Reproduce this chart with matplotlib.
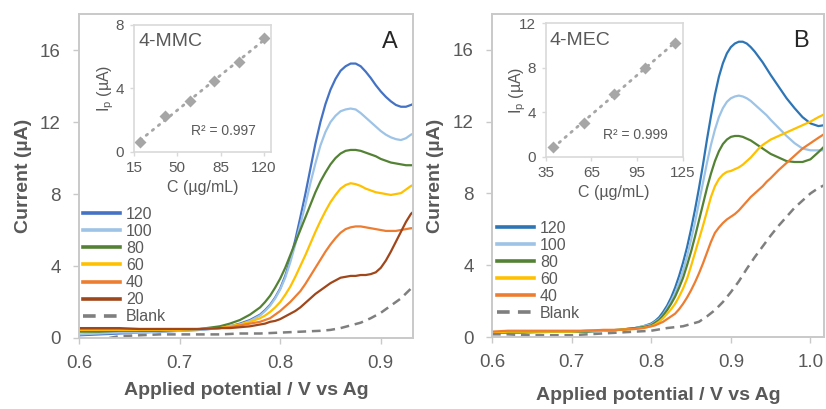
import numpy as np
import matplotlib.pyplot as plt

plt.rcParams["font.family"] = ["Liberation Sans", "DejaVu Sans"]

# ---- panel A : 4-MMC voltammograms -------------------------------------------
va = [0.60, 0.62, 0.64, 0.66, 0.68, 0.70, 0.72, 0.74, 0.75, 0.76, 0.77, 0.78,
      0.785, 0.79, 0.795, 0.80, 0.805, 0.81, 0.815, 0.82, 0.825, 0.83, 0.835,
      0.84, 0.845, 0.85, 0.855, 0.86, 0.865, 0.87, 0.875, 0.88, 0.885, 0.89,
      0.895, 0.90, 0.905, 0.91, 0.915, 0.92, 0.925, 0.93, 0.932]
ia_120 = [0.15, 0.2, 0.25, 0.3, 0.35, 0.4, 0.45, 0.55, 0.65, 0.8, 1.0, 1.3,
          1.55, 1.85, 2.25, 2.75, 3.45, 4.35, 5.45, 6.7, 8.0, 9.4, 10.8,
          12.0, 13.0, 13.8, 14.4, 14.85, 15.1, 15.25, 15.25, 15.1, 14.8, 14.45,
          14.05, 13.7, 13.4, 13.15, 12.95, 12.85, 12.85, 12.95, 13.0]
ia_100 = [0.2, 0.25, 0.3, 0.3, 0.35, 0.4, 0.45, 0.55, 0.65, 0.75, 0.95, 1.25,
          1.5, 1.8, 2.2, 2.7, 3.35, 4.2, 5.2, 6.3, 7.4, 8.6, 9.7,
          10.7, 11.45, 12.0, 12.35, 12.6, 12.7, 12.75, 12.7, 12.5, 12.25, 12.0,
          11.75, 11.5, 11.3, 11.15, 11.05, 11.0, 11.1, 11.3, 11.35]
ia_80 = [0.35, 0.35, 0.4, 0.4, 0.4, 0.45, 0.5, 0.65, 0.8, 1.0, 1.3, 1.7,
         2.0, 2.35, 2.8, 3.3, 3.9, 4.6, 5.3, 6.0, 6.7, 7.4, 8.1,
         8.7, 9.2, 9.65, 10.0, 10.25, 10.4, 10.45, 10.45, 10.4, 10.3, 10.2,
         10.1, 9.95, 9.85, 9.75, 9.7, 9.65, 9.6, 9.6, 9.6]
ia_60 = [0.45, 0.45, 0.45, 0.45, 0.45, 0.45, 0.5, 0.55, 0.65, 0.75, 0.9, 1.1,
         1.25, 1.45, 1.7, 2.0, 2.4, 2.85, 3.4, 4.0, 4.6, 5.25, 5.9,
         6.5, 7.05, 7.55, 7.95, 8.3, 8.5, 8.6, 8.55, 8.45, 8.3, 8.2,
         8.1, 8.05, 8.0, 7.95, 8.0, 8.05, 8.25, 8.45, 8.5]
ia_40 = [0.5, 0.5, 0.5, 0.5, 0.5, 0.5, 0.5, 0.55, 0.6, 0.7, 0.8, 0.9,
         1.0, 1.1, 1.3, 1.5, 1.75, 2.0, 2.3, 2.6, 3.0, 3.45, 3.9,
         4.35, 4.8, 5.2, 5.55, 5.85, 6.05, 6.15, 6.2, 6.2, 6.15, 6.1,
         6.05, 6.0, 5.95, 5.95, 5.95, 6.0, 6.05, 6.1, 6.1]
ia_20 = [0.55, 0.55, 0.55, 0.5, 0.5, 0.5, 0.5, 0.55, 0.55, 0.6, 0.65, 0.75,
         0.8, 0.9, 0.95, 1.05, 1.2, 1.35, 1.5, 1.7, 1.95, 2.2, 2.45,
         2.65, 2.85, 3.05, 3.2, 3.35, 3.4, 3.45, 3.45, 3.5, 3.5, 3.55,
         3.65, 3.9, 4.3, 4.8, 5.35, 5.9, 6.45, 6.9, 7.0]
va_blank = [0.63, 0.64, 0.66, 0.68, 0.70, 0.72, 0.74, 0.76, 0.78, 0.80, 0.82,
            0.84, 0.85, 0.86, 0.87, 0.88, 0.89, 0.90, 0.91, 0.92, 0.93, 0.932]
ia_blank = [0.0, 0.1, 0.15, 0.2, 0.2, 0.2, 0.2, 0.25, 0.25, 0.3, 0.35,
            0.4, 0.45, 0.55, 0.7, 0.85, 1.1, 1.4, 1.8, 2.2, 2.75, 2.85]

# calibration inset, 4-MMC
conc_a = [20, 40, 60, 80, 100, 120]
ip_a = [0.6, 2.25, 3.2, 4.45, 5.65, 7.15]

# ---- panel B : 4-MEC voltammograms -------------------------------------------
vb = [0.60, 0.62, 0.64, 0.66, 0.68, 0.70, 0.72, 0.74, 0.76, 0.78, 0.79,
      0.80, 0.805, 0.81, 0.815, 0.82, 0.825, 0.83, 0.835, 0.84, 0.845, 0.85,
      0.855, 0.86, 0.865, 0.87, 0.875, 0.88, 0.885, 0.89, 0.895, 0.90, 0.905,
      0.91, 0.915, 0.92, 0.925, 0.93, 0.935, 0.94, 0.945, 0.95, 0.96, 0.97,
      0.98, 0.99, 1.00, 1.01, 1.017]
ib_120 = [0.25, 0.3, 0.3, 0.3, 0.3, 0.3, 0.35, 0.35, 0.4, 0.5, 0.6,
          0.75, 0.9, 1.1, 1.4, 1.75, 2.2, 2.75, 3.4, 4.15, 5.0, 6.0,
          7.1, 8.3, 9.6, 11.0, 12.3, 13.5, 14.5, 15.25, 15.8, 16.15, 16.35,
          16.45, 16.45, 16.35, 16.15, 15.9, 15.6, 15.3, 14.95, 14.6, 13.95, 13.3,
          12.75, 12.25, 11.9, 11.75, 11.8]
ib_100 = [0.2, 0.25, 0.25, 0.25, 0.3, 0.3, 0.3, 0.35, 0.4, 0.5, 0.6,
          0.7, 0.85, 1.0, 1.25, 1.6, 2.0, 2.45, 3.05, 3.7, 4.5, 5.4,
          6.4, 7.5, 8.6, 9.7, 10.7, 11.55, 12.25, 12.75, 13.1, 13.3, 13.4,
          13.45, 13.4, 13.3, 13.15, 12.95, 12.75, 12.55, 12.35, 12.1, 11.65, 11.2,
          10.8, 10.5, 10.4, 10.4, 10.4]
ib_80 = [0.25, 0.25, 0.25, 0.3, 0.3, 0.3, 0.3, 0.35, 0.4, 0.5, 0.55,
         0.65, 0.8, 0.95, 1.2, 1.5, 1.85, 2.25, 2.75, 3.3, 4.0, 4.75,
         5.6, 6.5, 7.4, 8.3, 9.1, 9.8, 10.35, 10.75, 11.0, 11.15, 11.2,
         11.2, 11.15, 11.05, 10.95, 10.8, 10.65, 10.5, 10.35, 10.2, 10.0, 9.8,
         9.75, 9.75, 9.9, 10.3, 10.6]
ib_60 = [0.25, 0.3, 0.3, 0.3, 0.3, 0.3, 0.35, 0.35, 0.4, 0.45, 0.5,
         0.6, 0.7, 0.85, 1.05, 1.3, 1.55, 1.85, 2.25, 2.7, 3.25, 3.95,
         4.7, 5.45, 6.2, 7.0, 7.8, 8.4, 8.8, 9.05, 9.2, 9.25, 9.35,
         9.45, 9.6, 9.8, 10.0, 10.25, 10.5, 10.7, 10.85, 11.0, 11.2, 11.4,
         11.6, 11.8, 12.0, 12.25, 12.4]
ib_40 = [0.3, 0.35, 0.35, 0.35, 0.35, 0.35, 0.35, 0.4, 0.4, 0.45, 0.5,
         0.6, 0.65, 0.75, 0.85, 1.0, 1.15, 1.3, 1.55, 1.85, 2.2, 2.6,
         3.05, 3.55, 4.1, 4.7, 5.3, 5.8, 6.1, 6.35, 6.55, 6.7, 6.85,
         7.05, 7.3, 7.55, 7.8, 8.0, 8.2, 8.4, 8.65, 8.85, 9.3, 9.7,
         10.1, 10.5, 10.8, 11.1, 11.3]
vb_blank = [0.60, 0.62, 0.64, 0.66, 0.68, 0.70, 0.72, 0.74, 0.76, 0.78, 0.80,
            0.82, 0.84, 0.86, 0.87, 0.88, 0.89, 0.90, 0.91, 0.92, 0.93, 0.94,
            0.95, 0.96, 0.97, 0.98, 0.99, 1.00, 1.01, 1.017]
ib_blank = [0.15, 0.15, 0.1, 0.1, 0.1, 0.1, 0.15, 0.2, 0.25, 0.3, 0.35,
            0.5, 0.6, 0.85, 1.15, 1.5, 1.95, 2.5, 3.1, 3.8, 4.45, 5.05,
            5.65, 6.2, 6.7, 7.2, 7.6, 8.0, 8.3, 8.45]

# calibration inset, 4-MEC
conc_b = [40, 60, 80, 100, 120]
ip_b = [0.85, 3.05, 5.65, 7.95, 10.25]

GREY_TXT = "#595959"
GREY_BOX = "#c9c9c9"
GREY_PT = "#a6a6a6"

fig = plt.figure(figsize=(8.26, 4.09), dpi=100)


def style_main(ax, xlim, xticks, letter):
    ax.set_xlim(*xlim)
    ax.set_ylim(0, 18)
    ax.set_xticks(xticks)
    ax.set_xticklabels([f"{t:.1f}" for t in xticks])
    ax.set_yticks([0, 4, 8, 12, 16])
    for s in ax.spines.values():
        s.set_color(GREY_BOX)
        s.set_linewidth(1.4)
    ax.tick_params(axis="both", colors=GREY_BOX, labelcolor=GREY_TXT,
                   labelsize=13.5, length=4, width=1)
    ax.tick_params(axis="x", pad=8)
    ax.tick_params(axis="y", pad=9)
    ax.set_ylabel("Current (µA)", fontsize=14, fontweight="bold",
                  color=GREY_TXT)
    ax.set_xlabel("Applied potential / V vs Ag", fontsize=14,
                  fontweight="bold", color=GREY_TXT)
    ax.text(0.955, 0.915, letter, transform=ax.transAxes, fontsize=17,
            color="#262626", ha="right", va="center")


def style_inset(ax, xlim, xticks, ylim, yticks, name, r2):
    ax.set_xlim(*xlim)
    ax.set_ylim(*ylim)
    ax.set_xticks(xticks)
    ax.set_yticks(yticks)
    for s in ax.spines.values():
        s.set_color("#d9d9d9")
        s.set_linewidth(1.2)
    ax.tick_params(axis="both", colors="#d9d9d9", labelcolor=GREY_TXT,
                   labelsize=11, length=3, width=1, pad=4)
    ax.set_xlabel("C (µg/mL)", fontsize=11.5, color=GREY_TXT, labelpad=3)
    ax.set_ylabel(r"I$_\mathregular{p}$ (µA)", fontsize=11.5, color=GREY_TXT)
    ax.yaxis.set_label_coords(-0.13, 0.5)
    ax.text(0.03, 0.87, name, transform=ax.transAxes, fontsize=14,
            color=GREY_TXT, ha="left", va="center")
    ax.text(0.89, 0.16, r2, transform=ax.transAxes, fontsize=10,
            color=GREY_TXT, ha="right", va="center")


def calib(ax, conc, ip):
    slope, icpt = np.polyfit(conc, ip, 1)
    cx = np.array([conc[0], conc[-1]])
    ax.plot(cx, slope * cx + icpt, color=GREY_PT, lw=2, ls=(0, (0.6, 2.2)),
            dash_capstyle="round")
    ax.plot(conc, ip, "D", color=GREY_PT, ms=6.5, mec="none")


def blank_line(ax, v, i):
    ax.plot(v, i, color="#7f7f7f", lw=1.8, dashes=(3.5, 2.3), label="Blank")


def add_legend(ax, x0, y0):
    leg = ax.legend(loc="upper left", bbox_to_anchor=(x0, y0), frameon=False,
                    fontsize=11.5, handlelength=2.3, handletextpad=0.4,
                    labelspacing=0.13, borderpad=0, borderaxespad=0)
    for t in leg.get_texts():
        t.set_color(GREY_TXT)
    for ln in leg.get_lines():
        ln.set_linewidth(2.6)


# ---- panel A ----
axa = fig.add_axes([0.0956, 0.1736, 0.4044, 0.792])
axa.plot(va, ia_120, color="#4472C4", lw=1.6, label="120")
axa.plot(va, ia_100, color="#9DC3E6", lw=1.6, label="100")
axa.plot(va, ia_80, color="#548235", lw=1.6, label="80")
axa.plot(va, ia_60, color="#FFC000", lw=1.6, label="60")
axa.plot(va, ia_40, color="#ED7D31", lw=1.6, label="40")
axa.plot(va, ia_20, color="#A0461B", lw=1.6, label="20")
blank_line(axa, va_blank, ia_blank)
style_main(axa, (0.6, 0.932), [0.6, 0.7, 0.8, 0.9], "A")
axa.yaxis.set_label_coords(-0.14, 0.5)
axa.xaxis.set_label_coords(0.5, -0.135)
add_legend(axa, 0.012, 0.405)

insa = fig.add_axes([0.1622, 0.629, 0.1655, 0.3099])
calib(insa, conc_a, ip_a)
style_inset(insa, (15, 125.5), [15, 50, 85, 120], (0, 8), [0, 4, 8],
            "4-MMC", "R² = 0.997")

# ---- panel B ----
axb = fig.add_axes([0.5956, 0.176, 0.402, 0.790])
axb.plot(vb, ib_120, color="#2E75B6", lw=1.6, label="120")
axb.plot(vb, ib_100, color="#9DC3E6", lw=1.6, label="100")
axb.plot(vb, ib_80, color="#548235", lw=1.6, label="80")
axb.plot(vb, ib_60, color="#FFC000", lw=1.6, label="60")
axb.plot(vb, ib_40, color="#ED7D31", lw=1.6, label="40")
blank_line(axb, vb_blank, ib_blank)
style_main(axb, (0.6, 1.017), [0.6, 0.7, 0.8, 0.9, 1.0], "B")
axb.yaxis.set_label_coords(-0.145, 0.5)
axb.xaxis.set_label_coords(0.5, -0.155)
add_legend(axb, 0.015, 0.36)

insb = fig.add_axes([0.6606, 0.6169, 0.1659, 0.326])
calib(insb, conc_b, ip_b)
style_inset(insb, (35, 125), [35, 65, 95, 125], (0, 12), [0, 4, 8, 12],
            "4-MEC", "R² = 0.999")

fig.savefig("out.png", dpi=100)
